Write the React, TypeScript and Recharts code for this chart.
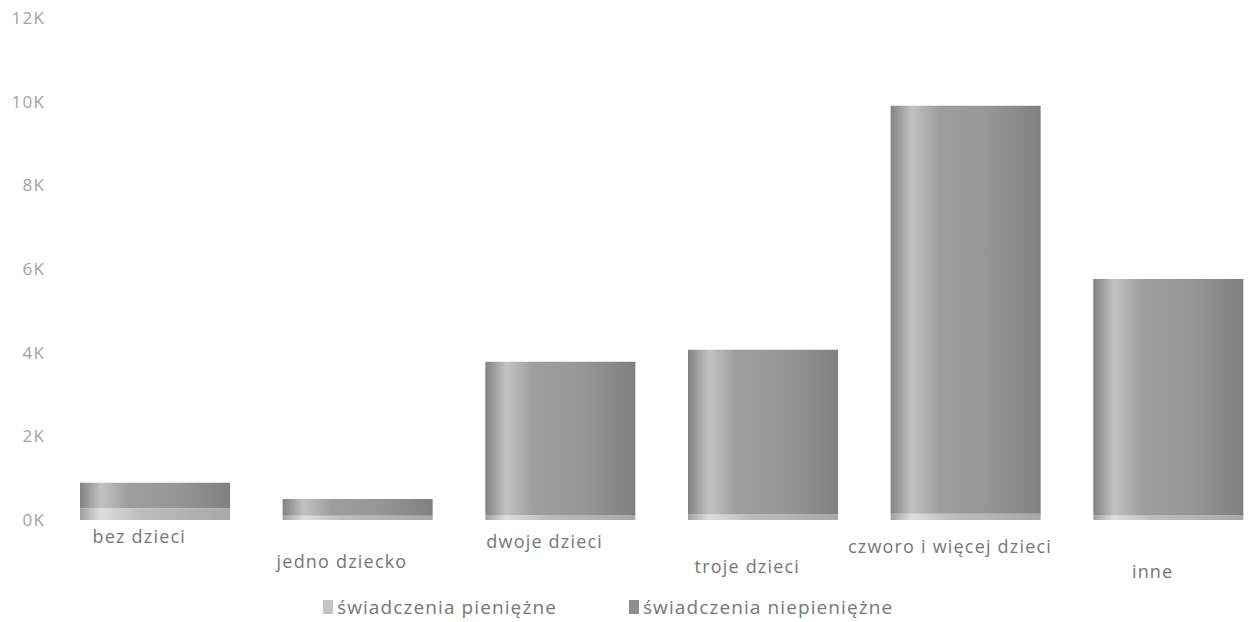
import React from 'react';
import { BarChart, Bar, XAxis, YAxis, Legend } from 'recharts';

const CATEGORIES = ['bez dzieci', 'jedno dziecko', 'dwoje dzieci', 'troje dzieci', 'czworo i więcej dzieci', 'inne'];
const PIENIEZNE = [280, 100, 120, 130, 150, 110];
const NIEPIENIEZNE = [610, 400, 3660, 3940, 9750, 5650];
const Y_TICKS = [0, 2000, 4000, 6000, 8000, 10000, 12000];

const SERIES = [
  { key: 'pieniezne', name: 'świadczenia pieniężne', fill: 'url(#gradLight)', swatch: '#c4c4c4' },
  { key: 'niepieniezne', name: 'świadczenia niepieniężne', fill: 'url(#gradDark)', swatch: '#8f8f8f' },
];

const data = CATEGORIES.map((name, i) => ({
  name,
  pieniezne: PIENIEZNE[i],
  niepieniezne: NIEPIENIEZNE[i],
}));

const FONT = '"Open Sans", "Noto Sans", sans-serif';

// labels are staggered on two rows, the scan is slightly skewed so they drift down
const CategoryTick = (props: any) => {
  const { x, y, payload, index } = props;
  const dy = 15 + index * 2.4 + (index % 2 === 1 ? 23 : 0);
  return (
    <text x={x - 16} y={y} dy={dy} textAnchor="middle" fill="#777" fontSize={18}
      fontFamily={FONT} style={{ letterSpacing: 1.2 }}>
      {payload.value}
    </text>
  );
};

const LegendContent = () => (
  <div style={{ display: 'flex', alignItems: 'center', height: 30, paddingLeft: 323, fontFamily: FONT, fontSize: 19, color: '#777', letterSpacing: 1.1 }}>
    {SERIES.map((s, i) => (
      <div key={s.key} style={{ display: 'flex', alignItems: 'center', marginRight: i === 0 ? 72 : 0 }}>
        <span style={{ display: 'inline-block', width: 10, height: 14, background: s.swatch, marginRight: 4 }} />
        <span>{s.name}</span>
      </div>
    ))}
  </div>
);

export default function App() {
  return (
    <div style={{ position: 'absolute', left: 0, top: 0, width: 1248, height: 622, overflow: 'hidden', background: '#fff' }}>
      <BarChart width={1270} height={622} data={data} margin={{ top: 18, right: 0, bottom: 0, left: 0 }} barSize={150}>
        <defs>
          <linearGradient id="gradDark" x1="0" y1="0" x2="1" y2="0">
            <stop offset="0%" stopColor="#828282" />
            <stop offset="14%" stopColor="#c2c2c2" />
            <stop offset="32%" stopColor="#9e9e9e" />
            <stop offset="65%" stopColor="#969696" />
            <stop offset="100%" stopColor="#808080" />
          </linearGradient>
          <linearGradient id="gradLight" x1="0" y1="0" x2="1" y2="0">
            <stop offset="0%" stopColor="#a0a0a0" />
            <stop offset="14%" stopColor="#dedede" />
            <stop offset="40%" stopColor="#bdbdbd" />
            <stop offset="100%" stopColor="#a8a8a8" />
          </linearGradient>
        </defs>
        <XAxis dataKey="name" axisLine={false} tickLine={false} interval={0} height={72} tick={<CategoryTick />} />
        <YAxis width={54} domain={[0, 12000]} ticks={Y_TICKS} axisLine={false} tickLine={false}
          tickSize={0} tickMargin={9} tickFormatter={(v: number) => `${v / 1000}K`}
          tick={{ fill: '#a3a3a3', fontSize: 17, fontFamily: FONT, letterSpacing: 1.2 }} />
        <Legend verticalAlign="bottom" wrapperStyle={{ height: 30 }} content={<LegendContent />} />
        {SERIES.map((s) => (
          <Bar key={s.key} dataKey={s.key} name={s.name} stackId="a" fill={s.fill} isAnimationActive={false} />
        ))}
      </BarChart>
    </div>
  );
}
